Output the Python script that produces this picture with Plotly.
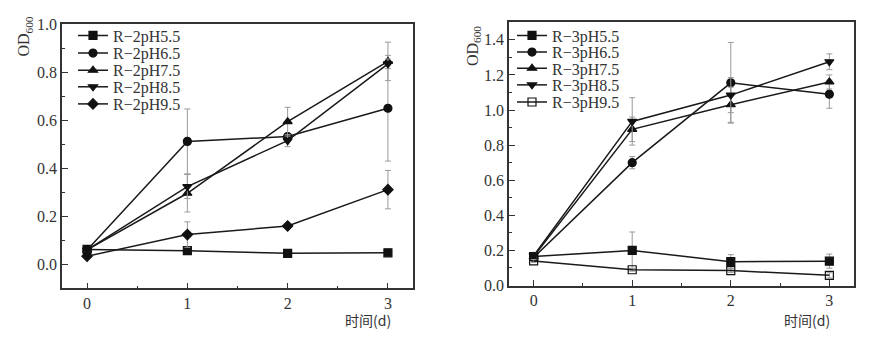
import plotly.graph_objects as go

days = [0, 1, 2, 3]

# Left panel (R-2)
r2_names = ["R\u22122pH5.5", "R\u22122pH6.5", "R\u22122pH7.5", "R\u22122pH8.5", "R\u22122pH9.5"]
r2_vals = [
    [0.062, 0.057, 0.046, 0.048],
    [0.060, 0.512, 0.532, 0.650],
    [0.060, 0.296, 0.594, 0.845],
    [0.060, 0.324, 0.515, 0.835],
    [0.034, 0.124, 0.160, 0.311],
]
r2_err = [
    [0.005, 0.005, 0.004, 0.004],
    [0.005, 0.135, 0.010, 0.220],
    [0.005, 0.078, 0.060, 0.080],
    [0.005, 0.050, 0.025, 0.020],
    [0.004, 0.053, 0.008, 0.080],
]

# Right panel (R-3)
r3_names = ["R\u22123pH5.5", "R\u22123pH6.5", "R\u22123pH7.5", "R\u22123pH8.5", "R\u22123pH9.5"]
r3_vals = [
    [0.165, 0.200, 0.136, 0.139],
    [0.160, 0.700, 1.155, 1.090],
    [0.165, 0.890, 1.030, 1.160],
    [0.170, 0.935, 1.085, 1.275],
    [0.140, 0.090, 0.085, 0.058],
]
r3_err = [
    [0.010, 0.105, 0.040, 0.040],
    [0.010, 0.035, 0.230, 0.080],
    [0.010, 0.070, 0.100, 0.040],
    [0.010, 0.135, 0.100, 0.045],
    [0.008, 0.008, 0.010, 0.015],
]

symbols2 = ["square", "circle", "triangle-up", "triangle-down", "diamond"]
symbols3 = ["square", "circle", "triangle-up", "triangle-down", "square-open"]

W, H = 879, 343
def px(x):
    return x / W
def py(y):
    return 1 - y / H

FONT = "Liberation Serif, Times New Roman, serif"
CJK = "Noto Sans CJK SC"
TXT = "#333333"

fig = go.Figure()

leg_layout = {}
leg2_y = [29, 47.5, 65.5, 83, 101]
leg3_y = [29, 46.5, 63.5, 81, 99]

def add_panel(names, vals_l, err_l, syms, xa, ya, start_idx, ys, xpx):
    for i, (name, vals, err, sym) in enumerate(zip(names, vals_l, err_l, syms)):
        idx = start_idx + i
        lname = "legend" if idx == 1 else f"legend{idx}"
        fig.add_trace(go.Scatter(
            x=days, y=vals, name=name, mode="lines+markers",
            line=dict(color="#1a1a1a", width=1.5),
            marker=dict(symbol=sym, size=8, color="#111111",
                        line=dict(color="#111111", width=1.2)),
            error_y=dict(type="data", array=err, visible=True, color="#9a9a9a",
                         thickness=1, width=3),
            xaxis=xa, yaxis=ya, legend=lname,
        ))
        leg_layout[lname] = dict(
            x=px(xpx), y=py(ys[i]), xanchor="left", yanchor="middle",
            bgcolor="rgba(0,0,0,0)", borderwidth=0, itemwidth=30,
            font=dict(family=FONT, size=16, color=TXT),
        )

add_panel(r2_names, r2_vals, r2_err, symbols2, "x", "y", 1, leg2_y, 73)
add_panel(r3_names, r3_vals, r3_err, symbols3, "x2", "y2", 6, leg3_y, 512)

axis_common = dict(
    showline=True, mirror=True, linecolor="#333333", linewidth=1.5,
    ticks="inside", ticklen=6, tickwidth=1, tickcolor="#333333",
    showgrid=False, zeroline=False,
    tickfont=dict(family=FONT, size=16, color=TXT),
    minor=dict(ticks="inside", ticklen=3, tickwidth=1, tickcolor="#333333", showgrid=False),
)

fig.update_layout(
    width=W, height=H,
    margin=dict(l=0, r=0, t=0, b=0),
    paper_bgcolor="white", plot_bgcolor="white",
    showlegend=True,
    xaxis=dict(domain=[px(62), px(413)], range=[-0.25, 3.25], anchor="y",
               tickvals=days, ticktext=["0", "1", "2", "3"],
               minor_tickvals=[0.5, 1.5, 2.5], **axis_common),
    yaxis=dict(domain=[py(295), py(17)], range=[-0.1, 1.0], anchor="x",
               tickvals=[0, 0.2, 0.4, 0.6, 0.8, 1.0], tickformat=".1f",
               minor_tickvals=[-0.1, 0.1, 0.3, 0.5, 0.7, 0.9], **axis_common),
    xaxis2=dict(domain=[px(509), px(854)], range=[-0.25, 3.25], anchor="y2",
                tickvals=days, ticktext=["0", "1", "2", "3"],
                minor_tickvals=[0.5, 1.5, 2.5], **axis_common),
    yaxis2=dict(domain=[py(292), py(15)], range=[0, 1.5], anchor="x2",
                tickvals=[0, 0.2, 0.4, 0.6, 0.8, 1.0, 1.2, 1.4], tickformat=".1f",
                minor_tickvals=[0.1, 0.3, 0.5, 0.7, 0.9, 1.1, 1.3, 1.5], **axis_common),
    annotations=[
        dict(text="OD<sub>600</sub>", x=px(25), y=py(30), xref="paper", yref="paper",
             textangle=-90, showarrow=False, xanchor="center", yanchor="middle",
             font=dict(family=FONT, size=16, color=TXT)),
        dict(text="OD<sub>600</sub>", x=px(473), y=py(40), xref="paper", yref="paper",
             textangle=-90, showarrow=False, xanchor="center", yanchor="middle",
             font=dict(family=FONT, size=16, color=TXT)),
        dict(text="时间(d)", x=px(393), y=py(328), xref="paper", yref="paper",
             showarrow=False, xanchor="right", yanchor="middle",
             font=dict(family=CJK, size=14, color=TXT)),
        dict(text="时间(d)", x=px(832), y=py(328), xref="paper", yref="paper",
             showarrow=False, xanchor="right", yanchor="middle",
             font=dict(family=CJK, size=14, color=TXT)),
    ],
)
fig.update_layout(**leg_layout)

fig.write_html("out.html")
